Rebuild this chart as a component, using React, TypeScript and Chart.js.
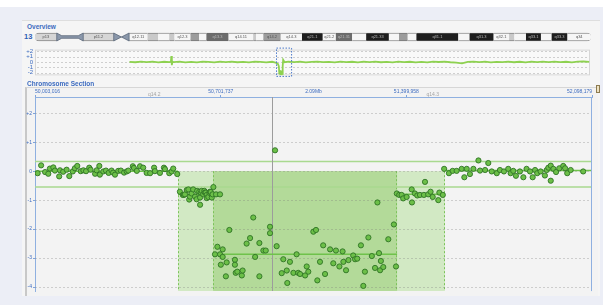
import React, { useEffect, useRef } from "react";
import { Chart, registerables } from "chart.js";
Chart.register(...registerables);

const FONT = "'Liberation Sans', Arial, sans-serif";
const BLUE = "#3d6cc0";

// ---------- Ideogram (chr13, Mb) ----------
const bandNames = ["p13","p12","p11.2","p11.1","q11","q12.11","q12.12","q12.13","q12.2","q12.3","q13.1","q13.2","q13.3","q14.11","q14.12","q14.13","q14.2","q14.3","q21.1","q21.2","q21.31","q21.32","q21.33","q22.1","q22.2","q22.3","q31.1","q31.2","q31.3","q32.1","q32.2","q32.3","q33.1","q33.2","q33.3","q34"];
const bandStarts = [0,4.5,10,16.3,17.9,19.5,23.3,25.5,27.8,28.9,32.2,34.0,35.5,40.1,45.2,45.8,47.3,50.9,55.3,59.6,62.3,65.7,68.6,73.3,75.4,77.2,79.0,87.7,90.0,95.0,98.2,99.3,101.7,104.8,107.0,110.3];
const bandEnds = [4.5,10,16.3,17.9,19.5,23.3,25.5,27.8,28.9,32.2,34.0,35.5,40.1,45.2,45.8,47.3,50.9,55.3,59.6,62.3,65.7,68.6,73.3,75.4,77.2,79.0,87.7,90.0,95.0,98.2,99.3,101.7,104.8,107.0,110.3,115.17];
const bandStains = ["gvar","stalk","gvar","acen","acen","gneg","gpos25","gneg","gpos25","gneg","gpos50","gneg","gpos75","gneg","gpos25","gneg","gpos50","gneg","gpos100","gneg","gpos75","gneg","gpos100","gneg","gpos50","gneg","gpos100","gneg","gpos100","gneg","gpos25","gneg","gpos100","gneg","gpos100","gneg"];
const chromLength = 115.17;

// ---------- Overview (Mb, log2 ratio) ----------
const ovPos = [19.6,20.8,22.0,23.2,24.4,25.6,26.8,27.9,28.2,28.3,28.4,28.5,28.8,30.0,31.2,32.4,33.6,34.8,36.0,37.2,38.4,39.6,40.8,42.0,43.2,44.4,45.6,46.8,48.0,49.2,49.9,50.4,50.6,50.7,50.8,50.9,51.0,51.1,51.2,51.3,51.4,51.5,51.8,52.6,53.8,55.0,56.2,57.4,58.6,59.8,61.0,62.2,63.4,64.6,65.8,67.0,68.2,69.4,70.6,71.8,73.0,74.2,75.4,76.6,77.8,79.0,80.2,81.4,82.6,83.8,85.0,86.2,87.4,88.6,89.8,91.0,92.2,93.4,94.6,95.8,97.0,98.2,99.4,100.6,101.8,103.0,104.2,105.4,106.6,107.8,109.0,110.2,111.4,112.6,113.8,115.0];
const ovLog2 = [0.02,-0.05,0.08,-0.03,0.06,-0.08,0.04,-0.02,0.05,1.1,-0.6,0.1,-0.04,0.07,-0.06,0.03,-0.09,0.05,0.01,-0.07,0.06,-0.02,0.08,-0.05,0.03,-0.08,0.05,0.0,-0.06,0.04,-0.1,-0.35,-0.8,-2.1,-1.5,-2.3,-1.7,-2.3,-1.6,-2.2,-0.8,0.4,-0.05,0.06,-0.03,0.05,-0.07,0.02,0.07,-0.04,0.03,-0.06,0.08,-0.02,0.04,-0.08,0.05,-0.03,0.07,-0.05,0.02,-0.07,0.06,-0.02,0.04,-0.06,0.03,-0.08,0.05,-0.01,0.06,-0.05,-0.12,-0.25,0.02,0.06,-0.04,0.05,-0.07,0.03,-0.02,0.07,-0.05,0.04,-0.06,0.08,-0.03,0.05,-0.04,0.06,-0.02,0.04,-0.07,0.05,0.09,0.02];
const ovTicks = [2, 1, 0, -1, -2];

// ---------- Chromosome section ----------
const viewStart = 50.003016;
const viewEnd = 52.098179;
const sectionTicks = [50.003016, 50.701737, 51.399958, 52.098179];
const sectionYTicks = [2, 1, 0, -1, -2, -3, -4];
const spanLabel = "2.09Mb";

const probePos = [
  50.013,50.026,50.041,50.053,50.059,50.072,50.078,50.094,50.097,50.109,50.122,50.132,50.145,50.153,50.162,50.175,50.185,50.195,50.207,50.212,50.229,50.235,50.245,50.247,50.260,50.270,50.280,50.291,50.297,50.304,50.316,50.326,50.338,50.348,50.354,50.371,50.375,50.386,50.398,50.410,50.423,50.436,50.451,50.454,50.473,50.488,50.492,50.508,50.517,50.523,50.538,
  50.548,50.559,50.563,50.567,50.574,50.580,50.583,50.586,50.592,50.598,50.605,50.611,50.613,50.621,50.624,50.624,50.627,50.630,50.636,50.640,50.642,50.646,50.649,50.649,50.655,50.659,50.661,50.664,50.668,50.671,50.674,50.684,50.699,
  50.680,50.689,50.699,50.702,50.709,50.709,50.721,50.724,50.734,50.755,50.755,50.758,50.764,50.781,50.784,50.799,50.812,50.824,50.831,50.847,50.847,50.862,50.871,50.887,50.887,50.906,50.912,50.931,50.937,50.950,50.952,50.962,50.975,50.987,50.993,51.000,51.019,51.025,51.031,51.050,51.060,51.065,51.075,51.087,51.094,51.113,51.125,51.135,51.148,51.160,51.163,51.173,51.182,51.200,51.207,51.215,51.229,51.238,51.244,51.257,51.270,51.282,51.291,51.297,51.301,51.304,51.313,51.332,51.353,51.361,
  51.364,51.373,51.382,51.388,51.401,51.420,51.421,51.432,51.441,51.451,51.466,51.470,51.482,51.491,51.499,51.520,51.524,51.537,
  51.542,51.560,51.574,51.589,51.608,51.618,51.627,51.639,51.652,51.671,51.677,51.696,51.708,51.721,51.740,51.752,51.767,51.783,51.792,51.802,51.812,51.827,51.840,51.852,51.865,51.875,51.884,51.892,51.905,51.921,51.928,51.934,51.943,51.943,51.953,51.963,51.975,51.990,51.997,52.005,52.018,52.065
];
const probeLog2 = [
  -0.07,0.20,-0.03,-0.09,0.09,0.13,0.02,-0.18,0.03,-0.02,0.05,-0.17,-0.01,0.10,0.18,0.00,0.03,0.00,0.12,0.05,-0.09,0.03,0.18,-0.12,-0.01,0.02,-0.06,0.02,-0.05,-0.12,0.01,0.02,-0.05,-0.01,0.02,0.17,0.11,0.01,0.17,0.12,-0.06,-0.07,0.12,0.00,-0.06,0.12,0.07,-0.07,-0.01,0.09,-0.10,
  -0.71,-0.82,-0.82,-0.80,-0.65,-0.63,-0.98,-0.88,-0.77,-0.63,-0.88,-0.97,-0.68,-0.71,-0.91,-1.16,-0.74,-0.68,-0.80,-0.68,-0.74,-0.74,-0.82,-0.93,-0.89,-0.75,-0.71,-0.72,-0.91,-0.80,-0.55,-0.80,-0.80,
  -2.87,-2.61,-2.87,-3.23,-2.70,-2.96,-3.63,-3.15,-2.03,-3.06,-3.23,-3.51,-3.47,-3.60,-3.43,-2.50,-2.31,-1.60,-2.96,-2.48,-3.63,-2.74,-2.74,-1.92,-2.14,0.72,-2.59,-3.52,-3.04,-3.43,-3.86,-3.13,-3.51,-2.87,-3.51,-3.55,-3.60,-3.29,-3.47,-2.09,-2.03,-3.77,-3.13,-2.56,-3.55,-2.70,-3.18,-2.74,-3.29,-2.77,-3.13,-3.42,-3.07,-2.91,-3.04,-3.02,-2.56,-3.96,-3.47,-2.29,-2.93,-3.34,-1.08,-2.83,-3.42,-3.10,-3.31,-2.35,-1.84,-3.29,
  -0.77,-0.82,-0.82,-0.94,-0.89,-0.63,-1.08,-0.77,-0.84,-0.82,-0.82,-0.37,-0.80,-0.71,-0.89,-1.00,-0.74,-0.82,
  0.08,-0.07,0.01,0.01,0.08,-0.21,0.08,-0.10,0.08,0.37,0.02,0.04,0.28,-0.01,-0.07,0.04,-0.01,0.08,-0.07,0.01,-0.16,-0.01,-0.21,0.08,-0.01,-0.21,0.04,-0.07,-0.01,-0.15,0.04,0.12,0.19,-0.33,0.08,-0.03,0.10,0.18,0.10,-0.07,0.04,-0.01
];

// called regions (light = loss, dark = deep loss)
const regionStart = [50.541, 50.673];
const regionEnd = [51.545, 51.365];
const regionTop = [0, 0];
// segment means
const segStart = [50.003016, 50.541, 50.673, 51.365, 51.545];
const segEnd = [50.541, 50.673, 51.365, 51.545, 52.098179];
const segMean = [0, -0.8, -2.87, -0.8, 0.02];
// threshold lines
const thresholds = [0.33, -0.55];
// cursor position
const cursorPos = 50.894;

// ---------- styles ----------
const STAIN_COLORS = {
  gneg: "#f6f6f6", gpos25: "#c9c9c9", gpos50: "#9c9c9c", gpos75: "#6c6c6c",
  gpos100: "#1e1e1e", gvar: "#d6d6d6", stalk: "rgba(0,0,0,0)", acen: "rgba(0,0,0,0)",
};
const PINCH_FILL = "#8a97aa";
const PINCH_STROKE = "#4f5b6e";
const REGION_FILLS = ["#d2e9c4", "#b3da99"];

const ideogramPlugin = {
  id: "ideoDecor",
  afterDatasetsDraw(chart) {
    const { ctx } = chart;
    const x = chart.scales.x, y = chart.scales.y;
    const yc = y.getPixelForValue(0);
    const h = 4;
    ctx.save();
    bandNames.forEach((name, i) => {
      const st = bandStains[i];
      const x0 = x.getPixelForValue(bandStarts[i]);
      const x1 = x.getPixelForValue(bandEnds[i]);
      if (st === "stalk") {
        ctx.beginPath();
        ctx.moveTo(x0, yc - h); ctx.lineTo(x0 + 5, yc - 1.3); ctx.lineTo(x1 - 5, yc - 1.3); ctx.lineTo(x1, yc - h);
        ctx.lineTo(x1, yc + h); ctx.lineTo(x1 - 5, yc + 1.3); ctx.lineTo(x0 + 5, yc + 1.3); ctx.lineTo(x0, yc + h);
        ctx.closePath();
        ctx.fillStyle = PINCH_FILL; ctx.fill();
        ctx.strokeStyle = PINCH_STROKE; ctx.lineWidth = 0.7; ctx.stroke();
      } else if (st === "acen") {
        ctx.beginPath();
        if (name.startsWith("p")) {
          ctx.moveTo(x0, yc - h); ctx.lineTo(x1, yc); ctx.lineTo(x0, yc + h);
        } else {
          ctx.moveTo(x1, yc - h); ctx.lineTo(x0, yc); ctx.lineTo(x1, yc + h);
        }
        ctx.closePath();
        ctx.fillStyle = PINCH_FILL; ctx.fill();
        ctx.strokeStyle = PINCH_STROKE; ctx.lineWidth = 0.7; ctx.stroke();
      } else {
        ctx.font = `4px ${FONT}`;
        const w = ctx.measureText(name).width;
        if (x1 - x0 > w + 2) {
          const dark = st === "gpos100" || st === "gpos75";
          ctx.fillStyle = dark ? "#b8b8b8" : "#555";
          ctx.textAlign = "center"; ctx.textBaseline = "middle";
          ctx.fillText(name, (x0 + x1) / 2, yc + 0.3);
        }
      }
    });
    ctx.restore();
  },
};

const overviewPlugin = {
  id: "ovDecor",
  beforeDatasetsDraw(chart) {
    const { ctx, chartArea: a } = chart;
    const y = chart.scales.y;
    ctx.save();
    ctx.fillStyle = "#f9f9f9";
    ctx.fillRect(a.left, a.top, a.right - a.left, a.bottom - a.top);
    ctx.strokeStyle = "#d6d6d6"; ctx.lineWidth = 1;
    ctx.strokeRect(a.left + 0.5, a.top + 0.5, a.right - a.left - 1, a.bottom - a.top - 1);
    ctx.setLineDash([2, 2]); ctx.strokeStyle = "#cfcfcf";
    ovTicks.forEach((t) => {
      const py = Math.round(y.getPixelForValue(t)) + 0.5;
      ctx.beginPath(); ctx.moveTo(a.left + 2, py); ctx.lineTo(a.right - 2, py); ctx.stroke();
    });
    ctx.restore();
  },
  afterDatasetsDraw(chart) {
    const { ctx, chartArea: a } = chart;
    const x = chart.scales.x;
    const x0 = x.getPixelForValue(viewStart), x1 = x.getPixelForValue(viewEnd);
    ctx.save();
    ctx.setLineDash([1.5, 1.5]); ctx.strokeStyle = "#4a78c8"; ctx.lineWidth = 1;
    ctx.strokeRect(Math.round(x0) + 0.5, a.top - 1.5, Math.max(2, x1 - x0 + 5), a.bottom - a.top + 2.5);
    ctx.restore();
  },
};

const sectionPlugin = {
  id: "secDecor",
  beforeDatasetsDraw(chart) {
    const { ctx, chartArea: a } = chart;
    const x = chart.scales.x, y = chart.scales.y;
    ctx.save();
    ctx.beginPath(); ctx.rect(a.left, a.top, a.right - a.left, a.bottom - a.top); ctx.clip();
    regionStart.forEach((s, i) => {
      const x0 = x.getPixelForValue(s), x1 = x.getPixelForValue(regionEnd[i]);
      const yt = y.getPixelForValue(regionTop[i]);
      ctx.fillStyle = REGION_FILLS[i];
      ctx.fillRect(x0, yt, x1 - x0, a.bottom - yt);
      ctx.setLineDash([2, 2]); ctx.strokeStyle = "#7cc35a"; ctx.lineWidth = 1;
      ctx.beginPath();
      ctx.moveTo(Math.round(x0) + 0.5, yt); ctx.lineTo(Math.round(x0) + 0.5, a.bottom);
      ctx.moveTo(Math.round(x1) - 0.5, yt); ctx.lineTo(Math.round(x1) - 0.5, a.bottom);
      ctx.stroke();
      ctx.setLineDash([]);
    });
    ctx.setLineDash([2, 2]); ctx.lineWidth = 1; ctx.strokeStyle = "rgba(120,120,120,0.3)";
    sectionYTicks.forEach((t) => {
      const py = Math.round(y.getPixelForValue(t)) + 0.5;
      ctx.beginPath(); ctx.moveTo(a.left, py); ctx.lineTo(a.right, py); ctx.stroke();
    });
    ctx.setLineDash([]);
    ctx.strokeStyle = "#a9d98f"; ctx.lineWidth = 1.5;
    thresholds.forEach((t) => {
      const py = y.getPixelForValue(t);
      ctx.beginPath(); ctx.moveTo(a.left, py); ctx.lineTo(a.right, py); ctx.stroke();
    });
    const cx = Math.round(x.getPixelForValue(cursorPos)) + 0.5;
    ctx.strokeStyle = "#9c9c9c"; ctx.lineWidth = 1;
    ctx.beginPath(); ctx.moveTo(cx, a.top); ctx.lineTo(cx, a.bottom); ctx.stroke();
    ctx.strokeStyle = "#6fc24b"; ctx.lineWidth = 1.5;
    segStart.forEach((s, i) => {
      const py = y.getPixelForValue(segMean[i]);
      ctx.beginPath(); ctx.moveTo(x.getPixelForValue(s), py); ctx.lineTo(x.getPixelForValue(segEnd[i]), py); ctx.stroke();
    });
    ctx.restore();
  },
  afterDraw(chart) {
    const { ctx, chartArea: a } = chart;
    const x = chart.scales.x;
    ctx.save();
    ctx.strokeStyle = "#8fb0e0"; ctx.lineWidth = 1;
    ctx.beginPath(); ctx.moveTo(a.right - 0.5, a.top); ctx.lineTo(a.right - 0.5, a.bottom); ctx.stroke();
    ctx.font = `5px ${FONT}`; ctx.textAlign = "center"; ctx.textBaseline = "middle";
    ctx.fillStyle = BLUE;
    ctx.fillText(spanLabel, (a.left + a.right) / 2, a.top - 5);
    ctx.fillStyle = "#a3a3a3";
    bandNames.forEach((name, i) => {
      const s = Math.max(bandStarts[i], viewStart), e = Math.min(bandEnds[i], viewEnd);
      if (e > s) {
        ctx.fillText(name, x.getPixelForValue((s + e) / 2), a.top - 2.5);
      }
    });
    ctx.restore();
  },
};

export default function App() {
  const ideoRef = useRef(null);
  const ovRef = useRef(null);
  const secRef = useRef(null);

  useEffect(() => {
    const ideo = new Chart(ideoRef.current, {
      type: "bar",
      data: {
        labels: ["13"],
        datasets: [{
          data: bandStarts.map((s, i) => ({ x: [s, bandEnds[i]], y: "13" })),
          backgroundColor: bandStains.map((s) => STAIN_COLORS[s]),
          borderColor: "#666",
          borderWidth: bandStains.map((s) => (s === "acen" || s === "stalk") ? 0 : { top: 0.8, bottom: 0.8, left: 0, right: 0 }),
          borderSkipped: false,
          borderRadius: bandStains.map((s, i) =>
            i === 0 ? { topLeft: 4, bottomLeft: 4, topRight: 0, bottomRight: 0 }
            : i === bandStains.length - 1 ? { topLeft: 0, bottomLeft: 0, topRight: 4, bottomRight: 4 } : 0),
          barThickness: 8,
          grouped: false,
        }],
      },
      options: {
        indexAxis: "y",
        animation: false, responsive: false, maintainAspectRatio: false,
        layout: { padding: 0 },
        plugins: { legend: { display: false }, tooltip: { enabled: false } },
        scales: {
          x: { type: "linear", min: 0, max: chromLength, display: false },
          y: { type: "category", display: false },
        },
      },
      plugins: [ideogramPlugin],
    });

    const ov = new Chart(ovRef.current, {
      type: "line",
      data: {
        datasets: [{
          data: ovPos.map((p, i) => ({ x: p, y: ovLog2[i] })),
          borderColor: "#8ed150", borderWidth: 1.8, pointRadius: 0, tension: 0,
        }],
      },
      options: {
        animation: false, responsive: false, maintainAspectRatio: false,
        layout: { padding: { left: 0, right: 6, top: 2, bottom: 2 } },
        plugins: { legend: { display: false }, tooltip: { enabled: false } },
        scales: {
          x: { type: "linear", min: 0, max: chromLength, display: false },
          y: {
            min: -2.5, max: 2.3,
            afterFit: (s) => { s.width = 13; },
            afterBuildTicks: (s) => { s.ticks = ovTicks.map((v) => ({ value: v })); },
            grid: { display: true, drawOnChartArea: false, drawTicks: false },
            border: { display: false },
            ticks: {
              autoSkip: false, padding: 2, color: BLUE, font: { size: 6, family: FONT },
              callback: (v) => (v > 0 ? "+" + v : String(v)),
            },
          },
        },
      },
      plugins: [overviewPlugin],
    });

    const sec = new Chart(secRef.current, {
      type: "scatter",
      data: {
        datasets: [{
          data: probePos.map((p, i) => ({ x: p, y: probeLog2[i] })),
          pointRadius: 2.6, pointBackgroundColor: "#6cbf48", pointBorderColor: "#2f7425", pointBorderWidth: 0.9,
        }],
      },
      options: {
        animation: false, responsive: false, maintainAspectRatio: false,
        layout: { padding: { left: 0, right: 8, top: 0, bottom: 0 } },
        plugins: { legend: { display: false }, tooltip: { enabled: false } },
        scales: {
          x: {
            type: "linear", position: "top", min: viewStart, max: viewEnd,
            afterFit: (s) => { s.height = 11; },
            afterBuildTicks: (s) => { s.ticks = sectionTicks.map((v) => ({ value: v })); },
            grid: { display: true, drawOnChartArea: false, drawTicks: true, tickLength: 2, color: "#7fa3dc" },
            border: { display: true, color: "#8fb0e0", width: 1 },
            ticks: {
              align: "inner", autoSkip: false, maxRotation: 0, padding: 0,
              color: BLUE, font: { size: 5, family: FONT },
              callback: (v) => Math.round(v * 1e6).toLocaleString("en-US"),
            },
          },
          y: {
            min: -4.14, max: 2.56,
            afterFit: (s) => { s.width = 13; },
            afterBuildTicks: (s) => { s.ticks = sectionYTicks.map((v) => ({ value: v })); },
            grid: { display: true, drawOnChartArea: false, drawTicks: true, tickLength: 2, color: "#7fa3dc" },
            border: { display: true, color: "#8fb0e0", width: 1 },
            ticks: {
              autoSkip: false, padding: 1, color: BLUE, font: { size: 5, family: FONT },
              callback: (v) => (v > 0 ? "+" + v : String(v)),
            },
          },
        },
      },
      plugins: [sectionPlugin],
    });

    return () => { ideo.destroy(); ov.destroy(); sec.destroy(); };
  }, []);

  const abs = (l, t, w, h, extra = {}) => ({ position: "absolute", left: l, top: t, width: w, height: h, ...extra });

  return (
    <div style={abs(0, 0, 603, 305, { background: "#eceef6", overflow: "hidden", fontFamily: FONT })}>
      <div style={abs(0, 0, 603, 7, { background: "#ffffff" })} />
      <div style={abs(22, 20, 578, 276, { background: "#f5f5f5", borderTop: "1px solid #dedede", boxSizing: "border-box" })} />
      <div style={abs(27, 22, 100, 9, { fontSize: 6.5, fontWeight: "bold", color: BLUE, lineHeight: "9px" })}>Overview</div>
      <div style={abs(24, 32, 11, 10, { fontSize: 7.5, fontWeight: "bold", color: "#2d5db5", lineHeight: "10px" })}>13</div>
      <canvas ref={ideoRef} width={556} height={12} style={abs(35, 31, 556, 12)} />
      <canvas ref={ovRef} width={574} height={37} style={abs(22, 44, 574, 37)} />
      <div style={abs(27, 80, 150, 8, { fontSize: 6.5, fontWeight: "bold", color: BLUE, lineHeight: "8px" })}>Chromosome Section</div>
      <div style={abs(25, 87, 573, 209, { background: "#f3f3f3", borderLeft: "2px solid #c8c8c8", borderTop: "1px solid #d6d6d6", boxSizing: "border-box" })} />
      <canvas ref={secRef} width={578} height={210} style={abs(22, 86, 578, 210)} />
      <div style={abs(596, 85, 4, 8, { background: "#eee2c2", border: "1px solid #8d7b4f", boxSizing: "border-box" })} />
    </div>
  );
}
